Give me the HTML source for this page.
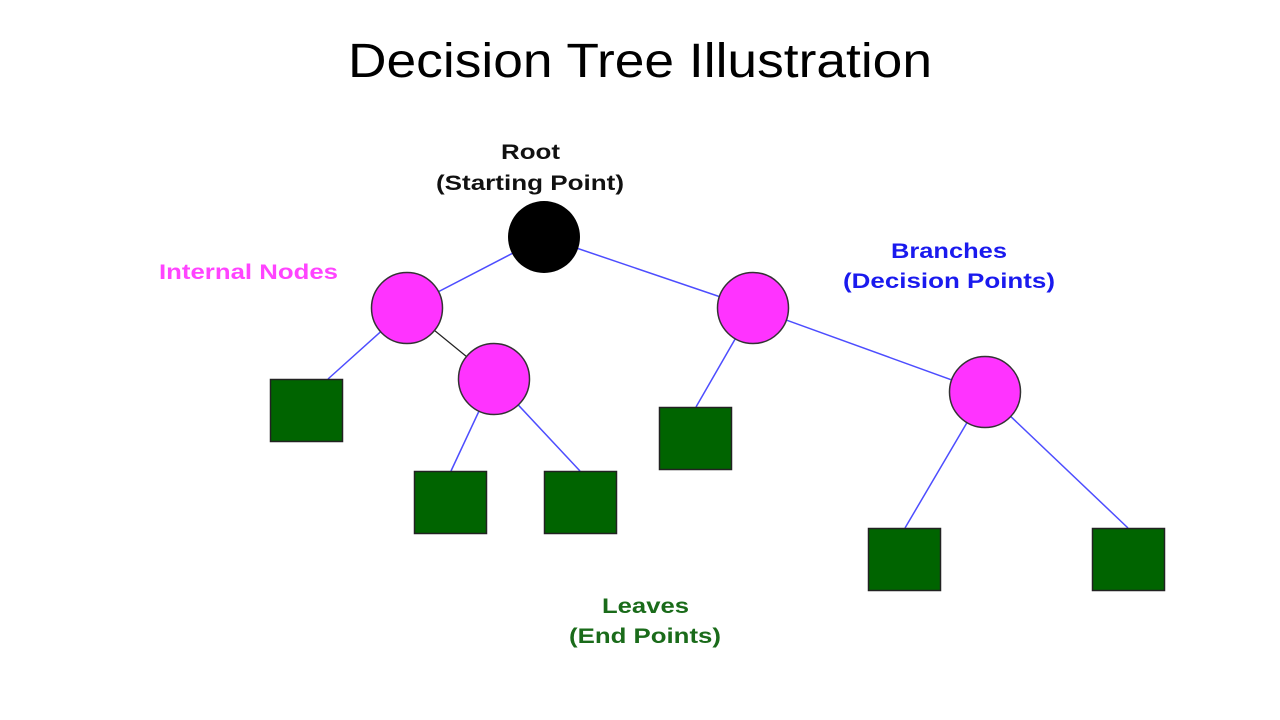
<!DOCTYPE html>
<html><head><style>
html,body{margin:0;padding:0;background:#fff;width:1280px;height:720px;overflow:hidden}
svg{display:block}
</style></head><body>
<svg width="1280" height="720" xmlns="http://www.w3.org/2000/svg">
<text x="348" y="77" textLength="584" lengthAdjust="spacingAndGlyphs" font-family="Liberation Sans, sans-serif" font-size="48" fill="#000">Decision Tree Illustration</text>
<g stroke="#4d4dff" stroke-width="1.5" fill="none">
<line x1="544" y1="237" x2="407" y2="308"/>
<line x1="407" y1="308" x2="328" y2="379"/>
<line x1="494" y1="379" x2="451" y2="471"/>
<line x1="494" y1="379" x2="580" y2="471"/>
<line x1="544" y1="237" x2="753" y2="308"/>
<line x1="753" y1="308" x2="696" y2="407"/>
<line x1="753" y1="308" x2="985" y2="392"/>
<line x1="985" y1="392" x2="905" y2="528"/>
<line x1="985" y1="392" x2="1128" y2="528"/>
</g>
<line x1="407" y1="308" x2="494" y2="379" stroke="#222" stroke-width="1.2"/>
<circle cx="544" cy="237" r="36" fill="#000"/>
<g fill="#ff33ff" stroke="#333" stroke-width="1.5">
<circle cx="407" cy="308" r="35.5"/>
<circle cx="494" cy="379" r="35.5"/>
<circle cx="753" cy="308" r="35.5"/>
<circle cx="985" cy="392" r="35.5"/>
</g>
<g fill="#006400" stroke="#222" stroke-width="1.5">
<rect x="270.5" y="379.5" width="72" height="62"/>
<rect x="414.5" y="471.5" width="72" height="62"/>
<rect x="544.5" y="471.5" width="72" height="62"/>
<rect x="659.5" y="407.5" width="72" height="62"/>
<rect x="868.5" y="528.5" width="72" height="62"/>
<rect x="1092.5" y="528.5" width="72" height="62"/>
</g>
<g font-family="Liberation Sans, sans-serif" font-weight="bold" font-size="21">
<text x="501" y="159" textLength="59" lengthAdjust="spacingAndGlyphs" fill="#111">Root</text>
<text x="436" y="190" textLength="188" lengthAdjust="spacingAndGlyphs" fill="#111">(Starting Point)</text>
<text x="159" y="279" textLength="179" lengthAdjust="spacingAndGlyphs" fill="#ff44ff">Internal Nodes</text>
<text x="891" y="258" textLength="116" lengthAdjust="spacingAndGlyphs" fill="#1a1aee">Branches</text>
<text x="843" y="288" textLength="212" lengthAdjust="spacingAndGlyphs" fill="#1a1aee">(Decision Points)</text>
<text x="602" y="613" textLength="87" lengthAdjust="spacingAndGlyphs" fill="#1a6b1a">Leaves</text>
<text x="569" y="643" textLength="152" lengthAdjust="spacingAndGlyphs" fill="#1a6b1a">(End Points)</text>
</g>
</svg>
</body></html>
